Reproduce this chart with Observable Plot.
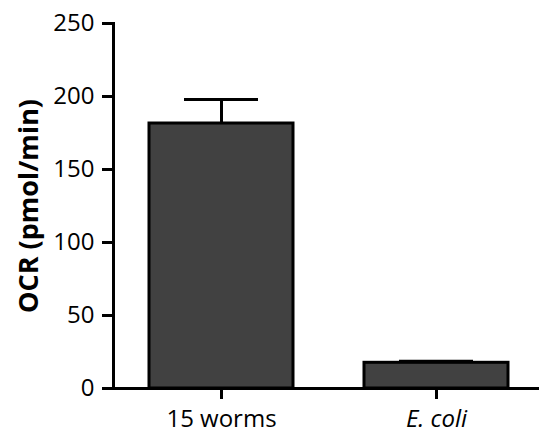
<!DOCTYPE html>
<html>
<head>
<meta charset="utf-8">
<script src="https://cdn.jsdelivr.net/npm/d3@7"></script>
<script src="https://cdn.jsdelivr.net/npm/@observablehq/plot@0.6"></script>
<style>
  html, body { margin: 0; padding: 0; background: #fff; }
  svg { font-family: "Open Sans", "Noto Sans", sans-serif; }
</style>
</head>
<body>
<div id="chart"></div>
<script>
const categories = ["15 worms", "E. coli"];
const values = [181.5, 17.6];
const errors = [16.5, 1.1];
const yTicks = [0, 50, 100, 150, 200, 250];

const data = categories.map((c, i) => ({cat: c, value: values[i], top: values[i] + errors[i]}));

const chart = Plot.plot({
  width: 539,
  height: 446,
  marginLeft: 113,
  marginRight: 0,
  marginTop: 23,
  marginBottom: 58,
  style: {fontFamily: "'Open Sans', 'Noto Sans', sans-serif", background: "white"},
  x: {domain: categories, range: [113, 543.6], paddingInner: 0.331, paddingOuter: 0.1655, align: 0.5},
  y: {domain: [0, 250]},
  marks: [
    Plot.ruleX(data, {x: "cat", y1: "value", y2: "top", stroke: "black", strokeWidth: 3}),
    Plot.tickY(data, {x: "cat", y: "top", stroke: "black", strokeWidth: 3, insetLeft: 35, insetRight: 35}),
    Plot.barY(data, {x: "cat", y: "value", fill: "#414141", stroke: "black", strokeWidth: 3}),
    Plot.frame({anchor: "left", stroke: "black", strokeWidth: 3}),
    Plot.ruleY([0], {stroke: "black", strokeWidth: 3}),
    Plot.axisY({ticks: yTicks, tickSize: 11, tickPadding: 8, strokeWidth: 3, fontSize: 24, label: null, color: "black"}),
    Plot.axisX([categories[0]], {tickSize: 11, tickPadding: 10, strokeWidth: 3, fontSize: 24, label: null, color: "black"}),
    Plot.axisX([categories[1]], {tickSize: 11, tickPadding: 10, strokeWidth: 3, fontSize: 24, fontStyle: "italic", label: null, color: "black"}),
    Plot.text(["OCR (pmol/min)"], {frameAnchor: "left", textAnchor: "middle", dx: -84, rotate: -90, fontSize: 27, fontWeight: "bold", fill: "black"})
  ]
});
document.getElementById("chart").append(chart);
</script>
</body>
</html>
